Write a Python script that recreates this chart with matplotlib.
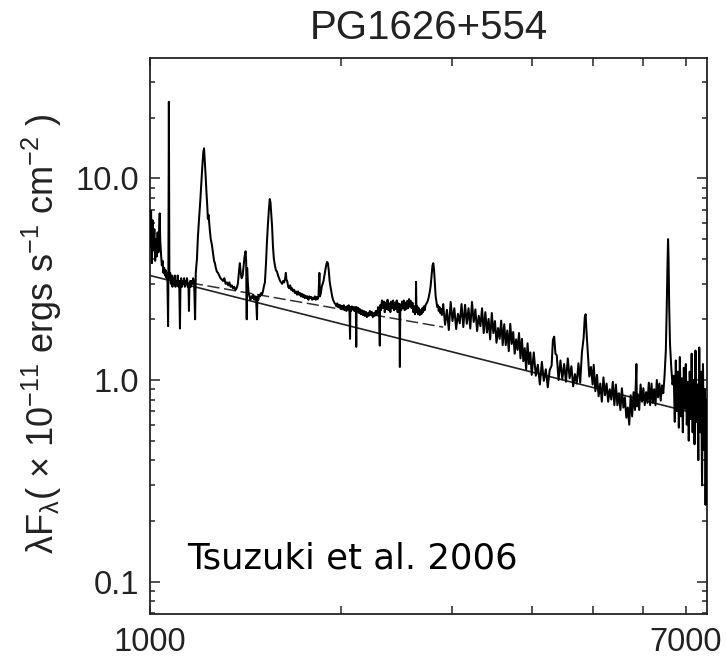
import matplotlib
matplotlib.use("Agg")
import matplotlib.pyplot as plt
from matplotlib.ticker import FixedLocator, FixedFormatter, NullFormatter

plt.rcParams['font.family'] = ['Liberation Sans', 'DejaVu Sans']
plt.rcParams['mathtext.fontset'] = 'custom'
plt.rcParams['mathtext.rm'] = 'Liberation Sans'
plt.rcParams['mathtext.it'] = 'Liberation Sans:italic'
plt.rcParams['mathtext.default'] = 'regular'

TITLE = 'PG1626+554'
CREDIT = 'Tsuzuki et al. 2006'

# rest-frame spectrum, (wavelength [A], lambda F_lambda [1e-11 erg/s/cm2])
far_uv = [
    (1000, 4.6), (1004, 6.9), (1007, 3.8), (1010, 6.2), (1013, 4.4), (1016, 5.6),
    (1019, 3.9), (1022, 5.0), (1025, 4.1), (1028, 5.4), (1031, 4.3), (1034, 5.8),
    (1036, 6.7), (1038, 4.9), (1041, 4.2), (1044, 3.7), (1047, 3.9), (1050, 3.4),
    (1053, 3.6), (1056, 3.3), (1059, 3.5), (1062, 3.2), (1065, 3.4), (1068, 1.85),
    (1069, 3.1), (1071, 24.0), (1073, 3.2), (1076, 3.4), (1079, 3.0), (1082, 3.3),
    (1085, 2.9), (1088, 3.2), (1091, 3.0), (1094, 3.3), (1097, 2.9), (1100, 3.1),
    (1103, 3.0), (1106, 3.3), (1109, 2.9), (1112, 3.1), (1115, 1.8), (1117, 3.0),
    (1120, 3.2), (1123, 2.9), (1126, 3.1), (1129, 3.0), (1132, 3.2), (1135, 2.9),
    (1138, 3.1), (1141, 3.0), (1144, 3.2), (1147, 2.9), (1150, 3.0), (1152, 2.2),
    (1154, 3.0), (1157, 3.1), (1160, 2.9), (1163, 3.1), (1166, 3.0), (1170, 3.2),
    (1174, 3.0), (1178, 2.0), (1181, 3.4), (1186, 4.0), (1190, 5.1), (1195, 6.3),
    (1200, 7.6), (1205, 9.5), (1210, 11.8), (1214, 13.6), (1217, 14.1), (1220, 12.4),
    (1224, 10.3), (1228, 8.4), (1231, 7.4), (1234, 6.3), (1237, 6.6), (1240, 6.0),
    (1243, 5.5), (1247, 5.0), (1252, 4.7), (1257, 4.3), (1262, 3.9), (1266, 3.8),
    (1270, 3.6), (1275, 3.45), (1280, 3.4), (1286, 3.3), (1292, 3.2), (1298, 3.15),
    (1304, 3.1), (1310, 3.2), (1316, 3.0), (1322, 3.05), (1328, 2.95), (1334, 3.05),
    (1340, 2.9), (1346, 2.95), (1352, 2.85), (1358, 2.9), (1364, 2.8), (1370, 2.85),
]

near_uv = [
    (1376, 3.0), (1382, 3.5), (1386, 3.8), (1390, 3.4), (1395, 3.2), (1400, 3.3),
    (1405, 3.7), (1410, 4.1), (1415, 4.35), (1418, 3.9), (1421, 2.0), (1423, 3.6),
    (1427, 3.0), (1431, 2.7), (1435, 2.6), (1440, 2.5), (1445, 2.6), (1450, 2.55),
    (1455, 2.65), (1460, 2.5), (1465, 2.6), (1470, 2.55), (1475, 2.0), (1477, 2.6),
    (1482, 2.5), (1487, 2.65), (1492, 2.6), (1497, 2.7), (1502, 2.65), (1507, 2.75),
    (1512, 2.9), (1518, 3.05), (1524, 3.8), (1529, 4.8), (1535, 6.0), (1540, 7.0),
    (1545, 7.9), (1549, 7.6), (1554, 6.6), (1558, 5.8), (1563, 4.6), (1568, 4.0),
    (1574, 3.7), (1580, 3.5), (1586, 3.45), (1592, 3.3), (1598, 3.2), (1604, 3.1),
    (1610, 3.05), (1616, 3.0), (1622, 3.1), (1628, 3.05), (1634, 3.2), (1638, 3.4),
    (1641, 3.15), (1646, 3.1), (1652, 2.9), (1658, 2.85), (1664, 2.95), (1670, 2.8),
    (1676, 2.85), (1682, 2.75), (1688, 2.8), (1694, 2.7), (1700, 2.75), (1706, 2.65),
    (1712, 2.75), (1718, 2.65), (1724, 2.7), (1730, 2.6), (1736, 2.68), (1742, 2.58),
    (1748, 2.65), (1754, 2.55), (1760, 2.62), (1766, 2.55), (1772, 2.6), (1778, 2.5),
    (1784, 2.6), (1790, 2.55), (1796, 2.58), (1802, 2.5), (1808, 2.56), (1814, 2.52),
    (1820, 2.6), (1826, 2.5), (1832, 2.58), (1838, 2.52), (1844, 2.6), (1850, 3.4),
    (1854, 2.6), (1860, 2.7), (1866, 2.9), (1872, 3.0), (1878, 3.1), (1884, 3.3),
    (1890, 3.5), (1896, 3.7), (1902, 3.85), (1908, 3.8), (1914, 3.5), (1920, 3.1),
    (1926, 2.9), (1932, 2.75), (1938, 2.6), (1944, 2.5), (1950, 2.45), (1956, 2.4),
    (1962, 2.38), (1968, 2.32), (1974, 2.4), (1980, 2.3), (1986, 2.36), (1992, 2.28),
    (1998, 2.35), (2004, 2.25), (2010, 2.33), (2016, 2.26), (2022, 2.35), (2028, 2.22),
    (2034, 2.3), (2040, 2.2), (2046, 2.32), (2052, 2.25), (2058, 2.35), (2064, 2.2),
    (2068, 1.6), (2070, 2.3), (2076, 2.2), (2082, 2.32), (2088, 2.24), (2094, 2.3),
    (2100, 2.2), (2106, 2.3), (2112, 2.25), (2115, 1.46), (2118, 2.3), (2124, 2.2),
    (2130, 2.28), (2136, 2.15), (2142, 2.25), (2150, 2.12), (2158, 2.22), (2166, 2.1),
    (2174, 2.2), (2182, 2.08), (2190, 2.18), (2198, 2.05), (2206, 2.15), (2214, 2.08),
    (2222, 2.2), (2230, 2.1), (2238, 2.18), (2246, 2.05), (2254, 2.15), (2262, 2.08),
    (2270, 2.2), (2280, 2.1), (2290, 2.3), (2298, 2.25), (2304, 1.48), (2306, 2.35),
    (2314, 2.22), (2322, 2.48), (2330, 2.28), (2338, 2.45), (2346, 2.17), (2354, 2.42),
    (2362, 2.25), (2370, 2.5), (2378, 2.22), (2386, 2.4), (2394, 2.17), (2402, 2.45),
    (2410, 2.27), (2418, 2.48), (2426, 2.22), (2434, 2.42), (2442, 2.25), (2450, 2.48),
    (2458, 2.17), (2466, 2.4), (2474, 2.28), (2478, 1.16), (2482, 2.37), (2490, 2.22),
    (2498, 2.45), (2506, 2.27), (2514, 2.48), (2522, 2.22), (2530, 2.42), (2538, 2.25),
    (2546, 2.47), (2554, 2.27), (2562, 2.52), (2570, 2.32), (2578, 2.47), (2586, 2.27),
    (2594, 2.42), (2602, 2.17), (2610, 2.32), (2618, 2.12), (2626, 2.3), (2628, 3.07),
    (2632, 2.17), (2640, 2.32), (2648, 2.12), (2656, 2.27), (2664, 2.1), (2672, 2.22),
    (2680, 2.12), (2688, 2.27), (2696, 2.17), (2704, 2.32), (2712, 2.22), (2720, 2.35),
    (2730, 2.4), (2740, 2.45), (2750, 2.55), (2760, 2.7), (2770, 2.9), (2780, 3.3),
    (2790, 3.7), (2798, 3.8), (2806, 3.5), (2814, 3.0), (2822, 2.6), (2830, 2.45),
    (2838, 2.3), (2846, 2.35), (2854, 2.2), (2862, 2.3), (2870, 2.15), (2878, 2.25),
    (2886, 2.1), (2894, 2.2),
]

optical = [
    (2900, 2.38), (2920, 1.88), (2940, 2.23), (2960, 1.77), (2980, 2.44), (3000, 1.96),
    (3020, 2.27), (3040, 1.79), (3060, 2.13), (3080, 1.91), (3100, 2.38), (3120, 1.83),
    (3140, 2.36), (3160, 1.90), (3180, 2.27), (3200, 1.80), (3220, 2.44), (3240, 1.94),
    (3260, 2.24), (3280, 1.75), (3300, 2.08), (3320, 1.85), (3340, 2.27), (3360, 1.71),
    (3380, 2.17), (3400, 1.72), (3420, 2.01), (3440, 1.59), (3460, 2.15), (3480, 1.71),
    (3500, 1.96), (3520, 1.53), (3540, 1.81), (3560, 1.60), (3580, 1.97), (3600, 1.49),
    (3620, 1.89), (3640, 1.49), (3660, 1.76), (3680, 1.39), (3700, 1.90), (3720, 1.51),
    (3740, 1.73), (3760, 1.35), (3780, 1.59), (3800, 1.41), (3820, 1.71), (3840, 1.28),
    (3860, 1.60), (3880, 1.24), (3900, 1.44), (3920, 1.13), (3940, 1.52), (3960, 1.20),
    (3980, 1.37), (4000, 1.06), (4030, 1.37), (4060, 1.05), (4090, 1.19), (4120, 0.95),
    (4150, 1.23), (4180, 0.99), (4210, 1.13), (4240, 0.92), (4270, 1.12), (4300, 1.18),
    (4320, 1.58), (4340, 1.64), (4360, 1.35), (4380, 1.33), (4410, 1.00), (4440, 1.25),
    (4470, 1.01), (4500, 1.20), (4530, 0.98), (4560, 1.28), (4590, 1.02), (4620, 1.17),
    (4650, 0.93), (4680, 1.07), (4710, 0.96), (4740, 1.21), (4770, 0.97), (4800, 1.37),
    (4830, 1.62), (4850, 2.05), (4865, 2.12), (4880, 1.75), (4900, 1.43), (4930, 1.04),
    (4960, 1.16), (4990, 0.95), (5010, 1.19), (5040, 0.88), (5070, 1.06), (5100, 0.83),
    (5130, 0.96), (5160, 0.78), (5190, 1.03), (5220, 0.84), (5250, 0.96), (5280, 0.78),
    (5310, 0.90), (5340, 0.80), (5370, 0.98), (5400, 0.75), (5430, 0.95), (5460, 0.75),
    (5490, 0.86), (5520, 0.71), (5550, 0.91), (5580, 0.73), (5610, 0.82), (5640, 0.65),
    (5670, 0.73), (5700, 0.60), (5730, 0.84), (5760, 0.66), (5790, 0.87), (5820, 0.71),
    (5850, 1.20), (5860, 0.74), (5880, 0.85), (5910, 0.71), (5940, 0.95), (5970, 0.78),
    (6000, 0.91), (6030, 0.75), (6060, 0.87), (6090, 0.77), (6120, 0.97), (6150, 0.75),
    (6180, 0.96), (6210, 0.77), (6240, 0.90), (6270, 0.75), (6300, 1.00), (6330, 0.82),
    (6360, 0.96), (6390, 0.79), (6420, 0.94), (6450, 0.86), (6480, 1.05), (6510, 1.40),
    (6530, 2.20), (6550, 3.80), (6563, 5.00), (6575, 4.00), (6590, 2.30), (6610, 1.50),
    (6640, 1.15), (6670, 0.95), (6700, 1.05), (6725, 0.62), (6750, 1.25), (6775, 0.70),
    (6800, 1.10), (6825, 0.58), (6850, 1.30), (6875, 0.66), (6900, 1.02), (6925, 0.55),
    (6950, 1.15), (6975, 0.72), (7000, 1.20), (7025, 0.60), (7050, 0.98), (7075, 0.50),
    (7100, 1.10), (7125, 0.64), (7150, 1.35), (7175, 0.55), (7200, 1.00), (7225, 0.48),
    (7250, 1.40), (7275, 0.62), (7300, 0.95), (7325, 0.40), (7350, 1.45), (7375, 0.55),
    (7400, 1.10), (7425, 0.30), (7450, 1.20), (7475, 0.45), (7500, 0.90), (7520, 0.24),
    (7540, 0.80), (7560, 0.50),
]

# power-law continuum fits
powerlaw_wave = [1000, 7560]
powerlaw_flux = [3.3, 0.66]
second_fit_wave = [1160, 2900]
second_fit_flux = [3.03, 1.83]

y_major = [0.1, 1.0, 10.0]
y_major_labels = ['0.1', '1.0', '10.0']
x_labelled = [1000, 7000]
x_minor = [2000, 3000, 4000, 5000, 6000]

points = far_uv + near_uv + optical
wave = [p[0] for p in points]
flux = [p[1] for p in points]

fig = plt.figure(figsize=(7.27, 6.62), dpi=100)
ax = fig.add_axes([0.2063, 0.0725, 0.7662, 0.8399])

ax.plot(wave, flux, color='black', lw=1.45, zorder=3)
ax.plot(powerlaw_wave, powerlaw_flux, color='#222222', lw=1.2, zorder=2)
ax.plot(second_fit_wave, second_fit_flux, color='#333333', lw=1.1,
        dashes=(8, 3), zorder=2)

ax.set_xscale('log')
ax.set_yscale('log')
ax.set_xlim(1000, 7560)
ax.set_ylim(0.069, 39.6)

ax.xaxis.set_major_locator(FixedLocator(x_labelled))
ax.xaxis.set_major_formatter(FixedFormatter([str(v) for v in x_labelled]))
ax.xaxis.set_minor_locator(FixedLocator(x_minor))
ax.xaxis.set_minor_formatter(NullFormatter())

ax.yaxis.set_major_locator(FixedLocator(y_major))
ax.yaxis.set_major_formatter(FixedFormatter(y_major_labels))
y_minor = [m * d for d in (0.01, 0.1, 1.0, 10.0) for m in range(2, 10)]
ax.yaxis.set_minor_locator(FixedLocator(y_minor))
ax.yaxis.set_minor_formatter(NullFormatter())

ax.tick_params(axis='both', which='both', direction='in', top=True, right=True,
               colors='#222222', labelsize=23.5, width=1.1)
ax.tick_params(axis='x', which='both', length=6, pad=9)
ax.tick_params(axis='y', which='major', length=7.5, pad=8)
ax.tick_params(axis='y', which='minor', length=3.8)
for s in ax.spines.values():
    s.set_linewidth(1.3)
    s.set_color('#222222')

ax.set_title(TITLE, fontsize=29, pad=14, color='#222222')
ax.set_ylabel(r'λF$_{λ}$( × 10$^{-11}$ ergs s$^{-1}$ cm$^{-2}$ )',
              fontsize=26, color='#222222')
ax.yaxis.set_label_coords(-0.155, 0.505)

ax.text(0.066, 0.081, CREDIT, transform=ax.transAxes, fontsize=25.5,
        family='DejaVu Sans', color='black', va='baseline', ha='left')

fig.savefig('out.png', dpi=100)
